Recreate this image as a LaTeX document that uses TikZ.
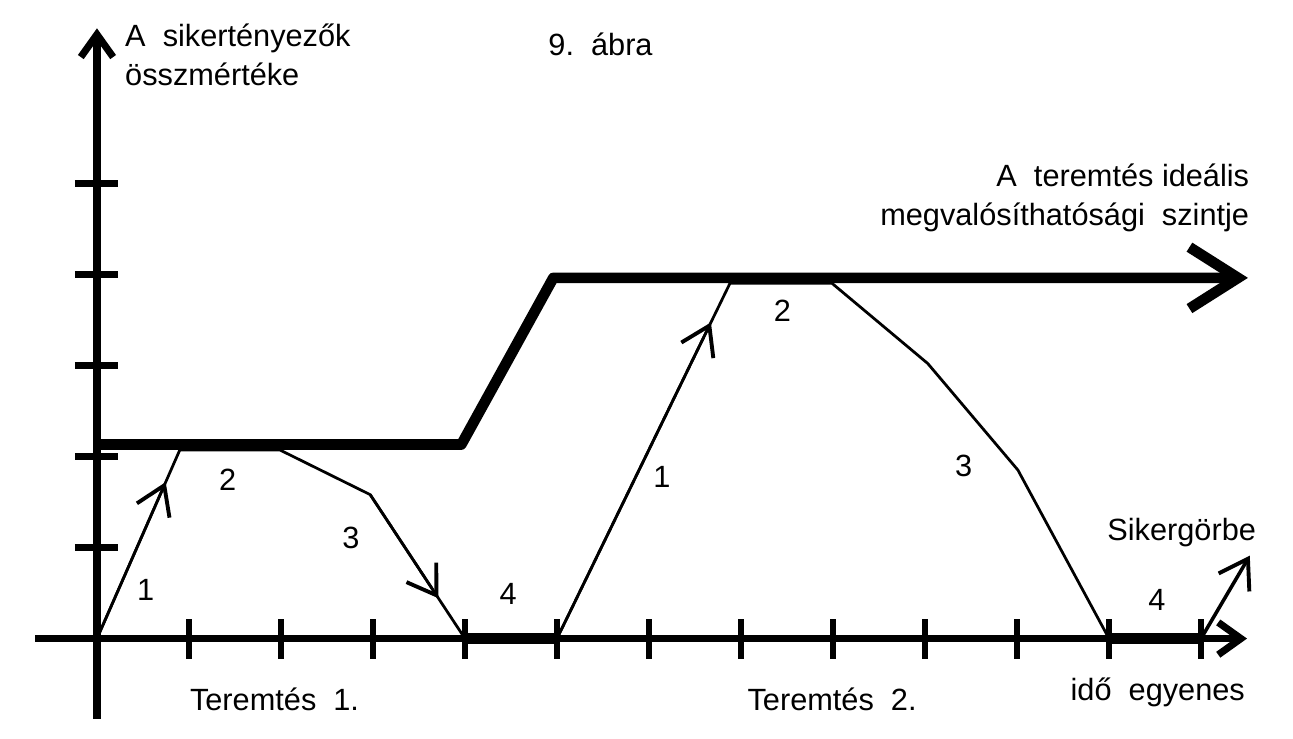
\documentclass[tikz,border=0pt]{standalone}
\usepackage{fontspec}
\setmainfont{Liberation Sans}
\usetikzlibrary{arrows.meta,calc}

\begin{document}
\begin{tikzpicture}[x=1cm,y=0.99cm,
	axis/.style={line width=2.2pt},
	tick/.style={line width=2.1pt},
	ideal/.style={line width=3.3pt,line join=round},
	curve/.style={line width=0.85pt},
	restline/.style={line width=3.6pt},
	barb/.style={-{Straight Barb[length=8.5pt,width=11pt,line width=1.2pt]}},
	lbl/.style={font=\fontsize{9.5}{12}\selectfont,inner sep=0pt}]

	\useasboundingbox (-1.054,-1.099) rectangle (13.0,7.011);

	% axes and ticks
	\draw[axis,-{Straight Barb[length=7pt,width=10pt]}] (0,-0.88) -- (0,6.70);
	\draw[axis,-{Straight Barb[length=7pt,width=10pt]}] (-0.67,0) -- (12.5,0);
	\foreach \x in {1,...,12}
		\draw[tick] (\x,-0.22) -- (\x,0.22);
	\foreach \y in {1,...,5}
		\draw[tick] (-0.24,\y) -- (0.23,\y);

	% ideal level
	\coordinate (i0) at (0,2.13);
	\coordinate (i1) at (3.96,2.13);
	\coordinate (i2) at (4.96,3.96);
	\coordinate (i3) at (12.51,3.96);
	\draw[ideal,-{Straight Barb[length=15pt,width=19pt]}] (i0) -- (i1) -- (i2) -- (i3);

	% success curve
	\coordinate (c0) at (0,0);
	\coordinate (c1) at (0.90,2.07);
	\coordinate (c2) at (1.99,2.07);
	\coordinate (c3) at (2.97,1.58);
	\coordinate (c4) at (4,0);
	\coordinate (c5) at (5,0);
	\coordinate (c6) at (6.88,3.90);
	\coordinate (c7) at (7.99,3.90);
	\coordinate (c8) at (9.03,3.02);
	\coordinate (c9) at (10.01,1.85);
	\coordinate (c10) at (11,0);
	\coordinate (c11) at (12,0);
	\coordinate (c12) at (12.53,0.91);

	\draw[curve] (c0) -- (c1) -- (c2) -- (c3) -- (c4);
	\draw[curve] (c5) -- (c6) -- (c7) -- (c8) -- (c9) -- (c10);
	\draw[curve,barb] (c0) -- ($(c0)!0.83!(c1)$);
	\draw[curve,barb] (c3) -- ($(c3)!0.72!(c4)$);
	\draw[curve,barb] (c5) -- ($(c5)!0.89!(c6)$);
	\draw[curve,barb,line width=1.1pt] (c11) -- (c12);
	\draw[restline] (c4) -- (c5);
	\draw[restline] (c10) -- (c11);

	% labels
	\node[lbl,anchor=base west,align=left] (ylabel) at (0.30,6.07) {A\ \ sikertényezők\\összmértéke};
	\node[lbl,anchor=base west] (title) at (4.90,6.40) {9.\ \ ábra};
	\node[lbl,anchor=base east,align=right] (ideallabel) at (12.53,4.54) {A\ \ teremtés ideális\\megvalósíthatósági\ \ szintje};

	\node[lbl] (n11) at (0.53,0.53) {1};
	\node[lbl] (n12) at (1.42,1.74) {2};
	\node[lbl] (n13) at (2.76,1.11) {3};
	\node[lbl] (n14) at (4.47,0.49) {4};
	\node[lbl] (n21) at (6.14,1.77) {1};
	\node[lbl] (n22) at (7.45,3.60) {2};
	\node[lbl] (n23) at (9.42,1.90) {3};
	\node[lbl] (n24) at (11.52,0.42) {4};

	\node[lbl,anchor=base] (curvelabel) at (11.79,1.08) {Sikergörbe};
	\node[lbl,anchor=base] (t1) at (1.93,-0.79) {Teremtés\ \ 1.};
	\node[lbl,anchor=base] (t2) at (7.99,-0.79) {Teremtés\ \ 2.};
	\node[lbl,anchor=base] (xlabel) at (11.53,-0.68) {idő\ \ egyenes};

\end{tikzpicture}
\end{document}
